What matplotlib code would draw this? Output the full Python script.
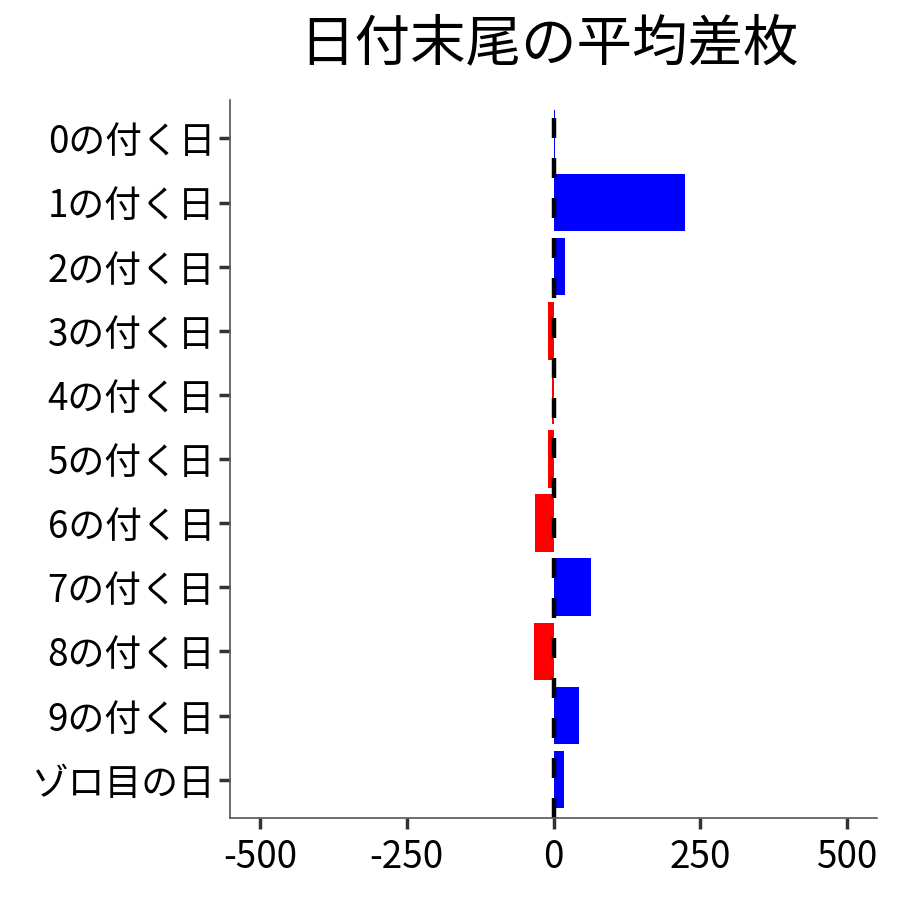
import matplotlib
matplotlib.use("Agg")
import matplotlib.pyplot as plt

plt.rcParams['font.family'] = ['Noto Sans CJK JP', 'DejaVu Sans']

# 日付末尾ごとの平均差枚
labels = ['0の付く日', '1の付く日', '2の付く日', '3の付く日', '4の付く日',
          '5の付く日', '6の付く日', '7の付く日', '8の付く日', '9の付く日', 'ゾロ目の日']
values = [2, 224, 19, -9, -2, -9, -31, 64, -33, 44, 18]
xticks = [-500, -250, 0, 250, 500]

colors = ['blue' if v >= 0 else 'red' for v in values]
ypos = list(range(len(labels)))

fig = plt.figure(figsize=(9, 9), dpi=100)
ax = fig.add_axes([0.256, 0.091, 0.718, 0.798])

ax.barh(ypos, values, height=0.9, color=colors)
ax.axvline(0, color='black', linestyle=(0, (4.5, 4.5)), linewidth=3.2)

ax.set_xlim(-550, 550)
ax.set_ylim(len(labels) - 0.4, -0.6)
ax.set_xticks(xticks)
ax.set_xticklabels([str(t) for t in xticks])
ax.set_yticks(ypos)
ax.set_yticklabels(labels)

for side in ['top', 'right']:
    ax.spines[side].set_visible(False)
for side in ['left', 'bottom']:
    ax.spines[side].set_color('#555555')
    ax.spines[side].set_linewidth(1.2)

ax.tick_params(axis='both', labelsize=26.5, colors='#333333', length=8, width=2.5,
               labelcolor='black')
ax.tick_params(axis='y', pad=3)
ax.tick_params(axis='x', pad=6)

fig.text(0.61, 1 - 44 / 900, '日付末尾の平均差枚', ha='center', va='center', fontsize=40)

fig.savefig('out.png', dpi=100)
